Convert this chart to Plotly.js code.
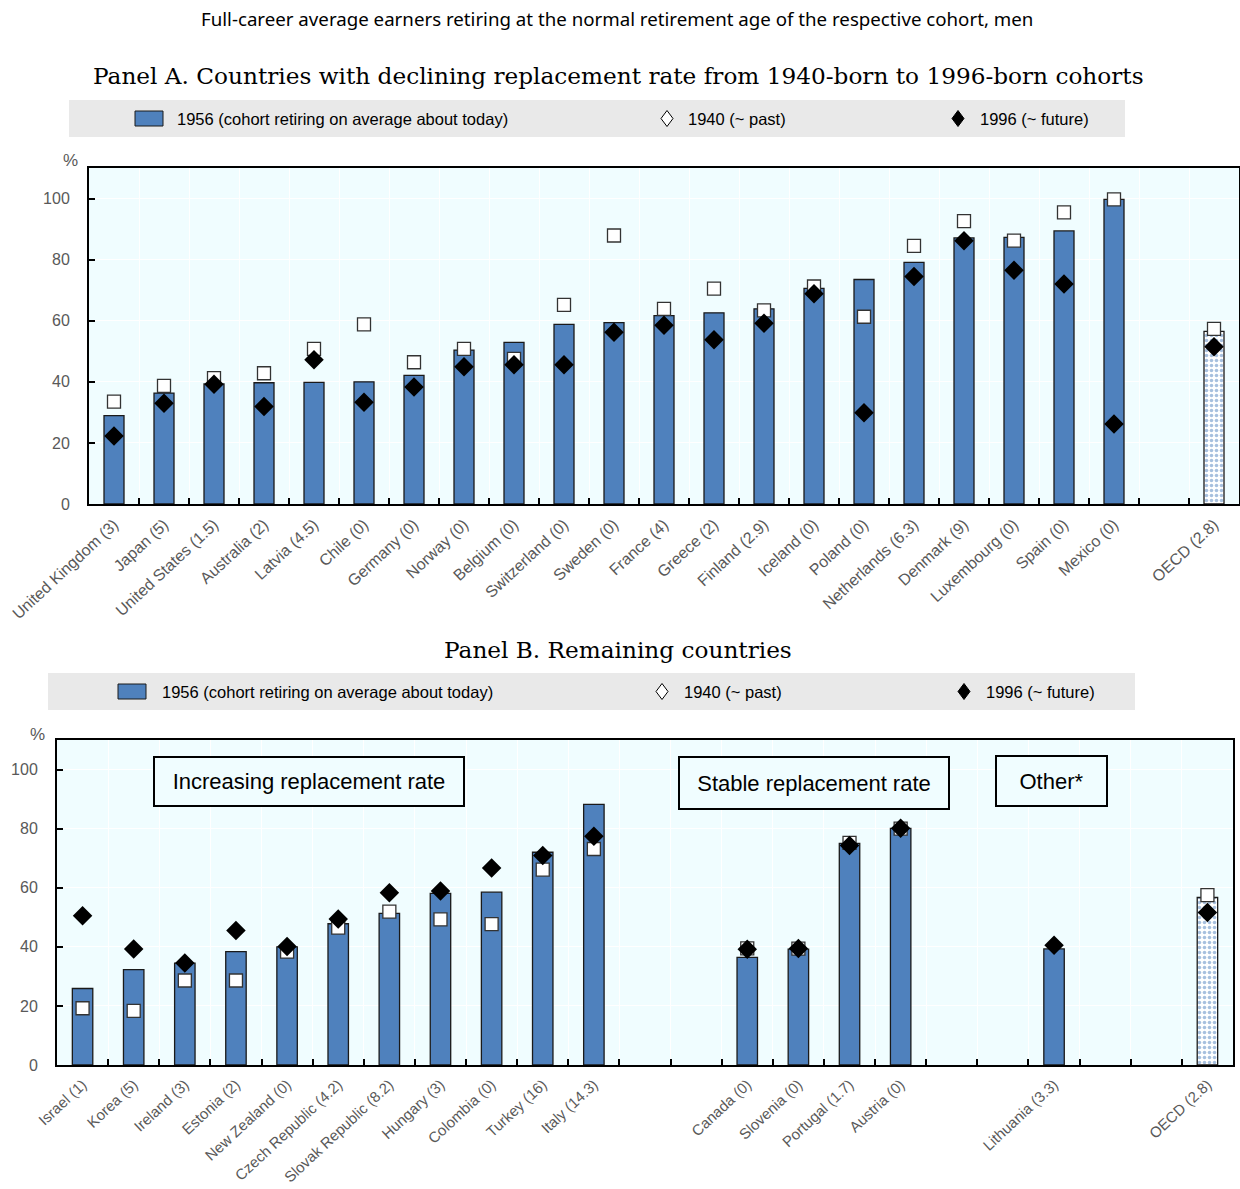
<!DOCTYPE html>
<html>
<head>
<meta charset="utf-8">
<script src="https://cdn.plot.ly/plotly-3.0.1.min.js"></script>
<style>html,body{margin:0;padding:0;background:#fff;}#chart{width:1240px;height:1189px;}</style>
</head>
<body>
<div id="chart"></div>
<script>
// ---------- DATA ----------
const countriesA = ["United Kingdom (3)","Japan (5)","United States (1.5)","Australia (2)","Latvia (4.5)","Chile (0)","Germany (0)","Norway (0)","Belgium (0)","Switzerland (0)","Sweden (0)","France (4)","Greece (2)","Finland (2.9)","Iceland (0)","Poland (0)","Netherlands (6.3)","Denmark (9)","Luxembourg (0)","Spain (0)","Mexico (0)"," ","OECD (2.8)"];
const cohort1956A = [28.9,36.3,39.3,39.7,39.8,40.0,42.1,50.4,52.9,58.8,59.4,61.7,62.6,63.9,70.6,73.5,79.1,87.1,87.3,89.4,99.7,null,56.5];
const cohort1940A = [33.5,38.7,41.2,42.8,50.8,58.8,46.4,50.8,47.5,65.2,87.9,63.9,70.5,63.4,71.2,61.3,84.5,92.6,86.2,95.5,99.7,null,57.3];
const cohort1996A = [22.3,33.0,39.2,31.9,47.2,33.3,38.3,44.9,45.6,45.6,56.2,58.5,53.8,59.2,68.8,29.9,74.5,86.2,76.5,72.0,26.2,null,51.5];

const countriesB = ["Israel (1)","Korea (5)","Ireland (3)","Estonia (2)","New Zealand (0)","Czech Republic (4.2)","Slovak Republic (8.2)","Hungary (3)","Colombia (0)","Turkey (16)","Italy (14.3)"," ","  ","Canada (0)","Slovenia (0)","Portugal (1.7)","Austria (0)","   ","    ","Lithuania (3.3)","     ","      ","OECD (2.8)"];
const cohort1956B = [25.9,32.3,34.5,38.4,40.0,47.8,51.3,58.1,58.5,72.0,88.2,null,null,36.4,39.2,75.0,80.1,null,null,39.3,null,null,56.7];
const cohort1940B = [19.2,18.3,28.6,28.6,38.4,46.5,51.9,49.3,47.7,66.1,73.1,null,null,39.5,39.4,75.2,80.0,null,null,null,null,null,57.5];
const cohort1996B = [50.5,39.3,34.5,45.5,40.1,49.4,58.3,58.9,66.7,70.9,77.4,null,null,39.2,39.4,74.3,80.1,null,null,40.5,null,null,51.6];

const yTicks = [0,20,40,60,80,100];
const seriesNames = ["1956 (cohort retiring on average about today)","1940 (~ past)","1996 (~ future)"];
const mainTitle = "Full-career average earners retiring at the normal retirement age of the respective cohort, men";
const titleA = "Panel A. Countries with declining replacement rate from 1940-born to 1996-born cohorts";
const titleB = "Panel B. Remaining countries";
const groupLabels = ["Increasing replacement rate","Stable replacement rate","Other*"];

// ---------- STYLE ----------
const W = 1240, H = 1189;
const px = p => p / W;
const py = p => 1 - p / H;
const BLUE = "#4f81bd";
const NARROW = "Liberation Sans Narrow, Arial Narrow, Liberation Sans, Arial, sans-serif";
const GRAY = "#595959";

function barTraces(cats, vals, xa, ya) {
  const isOECD = cats.map(c => c.startsWith("OECD"));
  const countryVals = vals.map((v, i) => isOECD[i] ? null : v);
  const oecdVals = vals.map((v, i) => isOECD[i] ? v : null);
  return [
    {type: "bar", x: cats, y: countryVals, xaxis: xa, yaxis: ya, width: 0.4, name: seriesNames[0], showlegend: false,
      marker: {color: BLUE, line: {color: "#1a1a1a", width: 1.3}}},
    {type: "bar", x: cats, y: oecdVals, xaxis: xa, yaxis: ya, width: 0.4, name: seriesNames[0] + " OECD", showlegend: false,
      marker: {color: "white", line: {color: "#1a1a1a", width: 1.3},
        pattern: {shape: ".", fgcolor: BLUE, bgcolor: "white", size: 5, solidity: 0.4, fillmode: "overlay"}}}
  ];
}
function sqTrace(cats, vals, xa, ya) {
  return {type: "scatter", mode: "markers", x: cats, y: vals, xaxis: xa, yaxis: ya, name: seriesNames[1], showlegend: false,
    marker: {symbol: "square", size: 13, color: "white", line: {color: "#333", width: 1.3}}};
}
function diTrace(cats, vals, xa, ya) {
  return {type: "scatter", mode: "markers", x: cats, y: vals, xaxis: xa, yaxis: ya, name: seriesNames[2], showlegend: false,
    marker: {symbol: "diamond", size: 15, color: "black", line: {color: "black", width: 0}}};
}

const data = [].concat(
  barTraces(countriesA, cohort1956A, "x", "y"),
  [sqTrace(countriesA, cohort1940A, "x", "y"), diTrace(countriesA, cohort1996A, "x", "y")],
  barTraces(countriesB, cohort1956B, "x2", "y2"),
  [sqTrace(countriesB, cohort1940B, "x2", "y2"), diTrace(countriesB, cohort1996B, "x2", "y2")]
);

function xAxis(cats, dom, anchor, fs) {
  return {
    domain: dom, anchor: anchor, type: "category", categoryorder: "array", categoryarray: cats,
    range: [-0.5, cats.length - 0.5], tickson: "boundaries", ticks: "inside", ticklen: 6, tickwidth: 2, tickcolor: "black",
    showline: true, linecolor: "black", linewidth: 2, mirror: true, showgrid: true, gridcolor: "white", gridwidth: 1,
    tickangle: -43, tickfont: {family: NARROW, size: fs, color: GRAY}, ticklabelstandoff: 3, fixedrange: true
  };
}
function yAxis(dom, anchor) {
  return {
    domain: dom, anchor: anchor, range: [0, 110], tickvals: yTicks, ticks: "inside", ticklen: 6, tickwidth: 2, tickcolor: "black",
    showline: true, linecolor: "black", linewidth: 2, mirror: true, showgrid: true, gridcolor: "white", gridwidth: 1,
    zeroline: false, tickfont: {family: NARROW, size: 16, color: GRAY}, ticklabelstandoff: 14, fixedrange: true
  };
}

function diamondPath(cx, cy, hw, hh) {
  return `M ${px(cx)} ${py(cy - hh)} L ${px(cx + hw)} ${py(cy)} L ${px(cx)} ${py(cy + hh)} L ${px(cx - hw)} ${py(cy)} Z`;
}
function legendBlock(y0, y1, x0, x1, swX, txt1X, d1X, txt2X, d2X, txt3X) {
  const cy = (y0 + y1) / 2;
  const shapes = [
    {type: "rect", xref: "paper", yref: "paper", x0: px(x0), x1: px(x1), y0: py(y1), y1: py(y0), fillcolor: "#e9e9e9", line: {width: 0}, layer: "below"},
    {type: "rect", xref: "paper", yref: "paper", x0: px(swX), x1: px(swX + 28), y0: py(cy + 7.5), y1: py(cy - 7.5), fillcolor: BLUE, line: {color: "#1a1a1a", width: 1}},
    {type: "path", xref: "paper", yref: "paper", path: diamondPath(d1X, cy, 6, 8), fillcolor: "white", line: {color: "black", width: 1}},
    {type: "path", xref: "paper", yref: "paper", path: diamondPath(d2X, cy, 6, 8), fillcolor: "black", line: {color: "black", width: 1}}
  ];
  const f = {family: NARROW, size: 16.5, color: "#000"};
  const ann = [
    {text: seriesNames[0], x: px(txt1X), y: py(cy), xref: "paper", yref: "paper", xanchor: "left", yanchor: "middle", showarrow: false, font: f},
    {text: seriesNames[1], x: px(txt2X), y: py(cy), xref: "paper", yref: "paper", xanchor: "left", yanchor: "middle", showarrow: false, font: f},
    {text: seriesNames[2], x: px(txt3X), y: py(cy), xref: "paper", yref: "paper", xanchor: "left", yanchor: "middle", showarrow: false, font: f}
  ];
  return {shapes, ann};
}

const legA = legendBlock(100, 137, 69, 1125, 135, 175, 667, 686, 958, 978);
const legB = legendBlock(673, 710, 48, 1135, 118, 160, 662, 682, 964, 984);

function boxAnn(text, x0, x1, y0, y1) {
  return {text: text, x: px((x0 + x1) / 2), y: py((y0 + y1) / 2), xref: "paper", yref: "paper", xanchor: "center", yanchor: "middle",
    showarrow: false, width: x1 - x0 - 4, height: y1 - y0 - 4, borderwidth: 2, bordercolor: "black", borderpad: 0, bgcolor: "#f0fdff",
    font: {family: NARROW, size: 22, color: "black"}};
}

const annotations = [
  {text: mainTitle, x: px(617), y: py(19), xref: "paper", yref: "paper", xanchor: "center", yanchor: "middle", showarrow: false,
    font: {family: "Noto Sans, Open Sans, sans-serif", size: 18.7, color: "#000"}},
  {text: titleA, x: px(618), y: py(75), xref: "paper", yref: "paper", xanchor: "center", yanchor: "middle", showarrow: false,
    font: {family: "DejaVu Serif, serif", size: 23.2, color: "#000"}},
  {text: titleB, x: px(618), y: py(649), xref: "paper", yref: "paper", xanchor: "center", yanchor: "middle", showarrow: false,
    font: {family: "DejaVu Serif, serif", size: 23.2, color: "#000"}},
  {text: "%", x: px(70), y: py(161), xref: "paper", yref: "paper", xanchor: "center", yanchor: "middle", showarrow: false,
    font: {family: NARROW, size: 17, color: GRAY}},
  {text: "%", x: px(37), y: py(735), xref: "paper", yref: "paper", xanchor: "center", yanchor: "middle", showarrow: false,
    font: {family: NARROW, size: 17, color: GRAY}},
  boxAnn(groupLabels[0], 153, 465, 756, 807),
  boxAnn(groupLabels[1], 678, 950, 756, 810),
  boxAnn(groupLabels[2], 995, 1108, 755, 807)
].concat(legA.ann, legB.ann);

const layout = {
  width: W, height: H, margin: {l: 0, r: 0, t: 0, b: 0},
  paper_bgcolor: "white", plot_bgcolor: "#f0fdff", showlegend: false, barmode: "overlay",
  xaxis: xAxis(countriesA, [px(89), px(1239)], "y", 16),
  yaxis: yAxis([py(504), py(168)], "x"),
  xaxis2: xAxis(countriesB, [px(57), px(1233)], "y2", 15),
  yaxis2: yAxis([py(1065), py(740)], "x2"),
  shapes: legA.shapes.concat(legB.shapes),
  annotations: annotations
};

Plotly.newPlot("chart", data, layout, {staticPlot: true, displayModeBar: false});
</script>
</body>
</html>
